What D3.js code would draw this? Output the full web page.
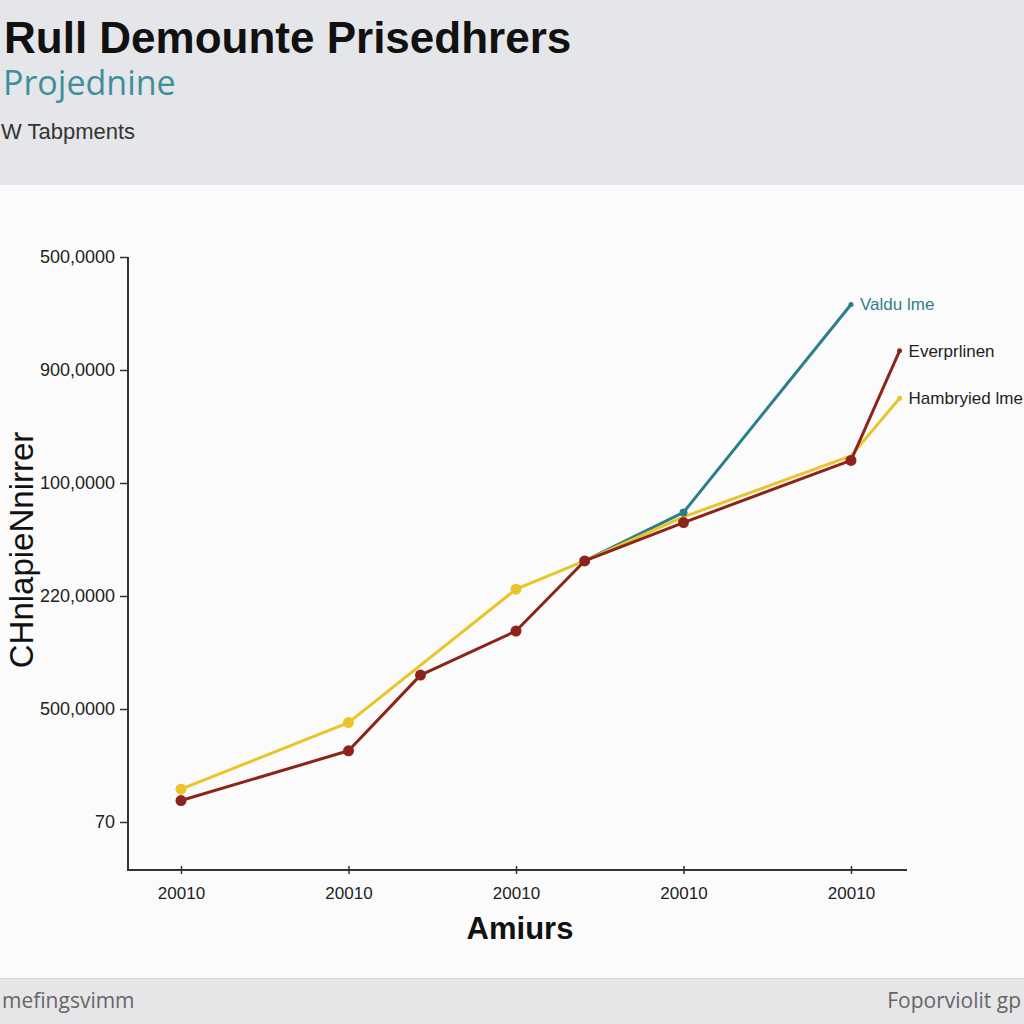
<!DOCTYPE html>
<html><head><meta charset="utf-8">
<script src="https://cdn.jsdelivr.net/npm/d3@7"></script>
<style>body{margin:0;background:#fafafa}svg{display:block}</style>
</head><body>
<svg id="c" width="1024" height="1024"></svg>
<script>
// Data (x in tick-index units, y in tick-index units of the y axis)
const xTickLabels = ["20010","20010","20010","20010","20010"];
const yTickLabels = ["70","500,0000","220,0000","100,0000","900,0000","500,0000"];
const seriesNames = ["Valdu lme","Everprlinen","Hambryied lme"];
const tealX = [2.41, 3, 4];
const tealY = [2.31, 2.74, 4.58];
const redX = [0, 1, 1.43, 2, 2.41, 3, 4, 4.29];
const redY = [0.19, 0.63, 1.30, 1.69, 2.31, 2.65, 3.20, 4.17];
const yelX = [0, 1, 2, 2.41, 3, 4, 4.29];
const yelY = [0.29, 0.88, 2.06, 2.31, 2.70, 3.24, 3.75];
const redDots = [0, 1, 2, 3, 4, 5, 6];
const yelDots = [0, 1, 2];
const tealDots = [1];

const svg = d3.select("#c");
// backgrounds
svg.append("rect").attr("x",0).attr("y",0).attr("width",1024).attr("height",1024).attr("fill","#fbfbfb");
svg.append("rect").attr("x",0).attr("y",0).attr("width",1024).attr("height",185).attr("fill","#e5e6e9");
svg.append("rect").attr("x",0).attr("y",978).attr("width",1024).attr("height",46).attr("fill","#e6e6e8");
svg.append("line").attr("x1",0).attr("x2",1024).attr("y1",978.5).attr("y2",978.5).attr("stroke","#d6d6d8");

// header text
svg.append("text").attr("x",4).attr("y",53).attr("font-family","Liberation Sans, Arial, sans-serif")
  .attr("font-weight","bold").attr("font-size",44).attr("fill","#111").text("Rull Demounte Prisedhrers");
svg.append("text").attr("x",3).attr("y",95).attr("font-family","Open Sans, sans-serif")
  .attr("font-size",34).attr("fill","#3e8f99").text("Projednine");
svg.append("text").attr("x",1).attr("y",139).attr("font-family","Liberation Sans, Arial, sans-serif")
  .attr("font-size",22).attr("fill","#333").text("W Tabpments");
// footer
svg.append("text").attr("x",2).attr("y",1008).attr("font-family","Open Sans, sans-serif")
  .attr("font-size",21).attr("fill","#666").text("mefingsvimm");
svg.append("text").attr("x",1021).attr("y",1008).attr("text-anchor","end").attr("font-family","Open Sans, sans-serif")
  .attr("font-size",21).attr("fill","#666").text("Foporviolit gp");

const x = d3.scaleLinear().domain([0,4]).range([181,851]);
const y = d3.scaleLinear().domain([0,5]).range([822,257]);

// axes
const gx = svg.append("g").attr("transform","translate(0,870)");
gx.append("line").attr("x1",128).attr("x2",907).attr("stroke","#333").attr("stroke-width",2);
gx.call(g=>{
  const ax = d3.axisBottom(x).tickValues(d3.range(xTickLabels.length)).tickFormat(i=>xTickLabels[i]).tickSize(8).tickPadding(9);
  g.call(ax);
  g.select(".domain").remove();
  g.selectAll(".tick line").attr("transform","translate(0,-4)").attr("stroke","#333").attr("stroke-width",1.5);
  g.selectAll(".tick text").attr("font-family","Liberation Sans, Arial, sans-serif").attr("font-size",17).attr("fill","#222");
});
const gy = svg.append("g").attr("transform","translate(128,0)");
gy.append("line").attr("y1",257).attr("y2",871).attr("stroke","#333").attr("stroke-width",2);
gy.call(g=>{
  const ax = d3.axisLeft(y).tickValues(d3.range(yTickLabels.length)).tickFormat(i=>yTickLabels[i]).tickSize(8).tickPadding(5);
  g.call(ax);
  g.select(".domain").remove();
  g.selectAll(".tick line").attr("stroke","#333").attr("stroke-width",1.5);
  g.selectAll(".tick text").attr("font-family","Liberation Sans, Arial, sans-serif").attr("font-size",18).attr("fill","#222");
});

// axis titles
svg.append("text").attr("x",520).attr("y",939).attr("text-anchor","middle")
  .attr("font-family","Liberation Sans, Arial, sans-serif").attr("font-weight","bold").attr("font-size",31)
  .attr("fill","#111").text("Amiurs");
svg.append("text").attr("transform","translate(33,550) rotate(-90)").attr("text-anchor","middle")
  .attr("font-family","Liberation Sans, Arial, sans-serif").attr("font-size",33)
  .attr("fill","#111").text("CHnlapieNnirrer");

// lines
const line = d3.line().x(d=>x(d[0])).y(d=>y(d[1]));
function draw(xs, ys, color, w){
  const pts = xs.map((v,i)=>[v, ys[i]]);
  svg.append("path").datum(pts).attr("d",line).attr("fill","none").attr("stroke",color)
    .attr("stroke-width",w).attr("stroke-linejoin","round").attr("stroke-linecap","round");
  return pts;
}
const teal = "#2b7f8a", red = "#8c2419", yel = "#e9c42a";
const pT = draw(tealX, tealY, teal, 3);
const pY = draw(yelX, yelY, yel, 3);
const pR = draw(redX, redY, red, 3);

function dots(pts, idx, color, r){
  svg.append("g").selectAll("circle").data(idx.map(i=>pts[i])).join("circle")
    .attr("cx",d=>x(d[0])).attr("cy",d=>y(d[1])).attr("r",r).attr("fill",color);
}
dots(pY, yelDots, yel, 5.5);
dots(pR, redDots, red, 5.5);
dots(pT, tealDots, teal, 4);
// end caps
dots(pT, [pT.length-1], teal, 2.5);
dots(pR, [pR.length-1], red, 2.5);
dots(pY, [pY.length-1], yel, 2.5);

// series labels at line ends
const ends = [[pT[pT.length-1], seriesNames[0], "#2f7f8a"], [pR[pR.length-1], seriesNames[1], "#222"], [pY[pY.length-1], seriesNames[2], "#222"]];
svg.append("g").selectAll("text").data(ends).join("text")
  .attr("x",d=>x(d[0][0])+9).attr("y",d=>y(d[0][1])+6)
  .attr("font-family","Liberation Sans, Arial, sans-serif").attr("font-size",17)
  .attr("fill",d=>d[2]).text(d=>d[1]);
</script>
</body></html>
